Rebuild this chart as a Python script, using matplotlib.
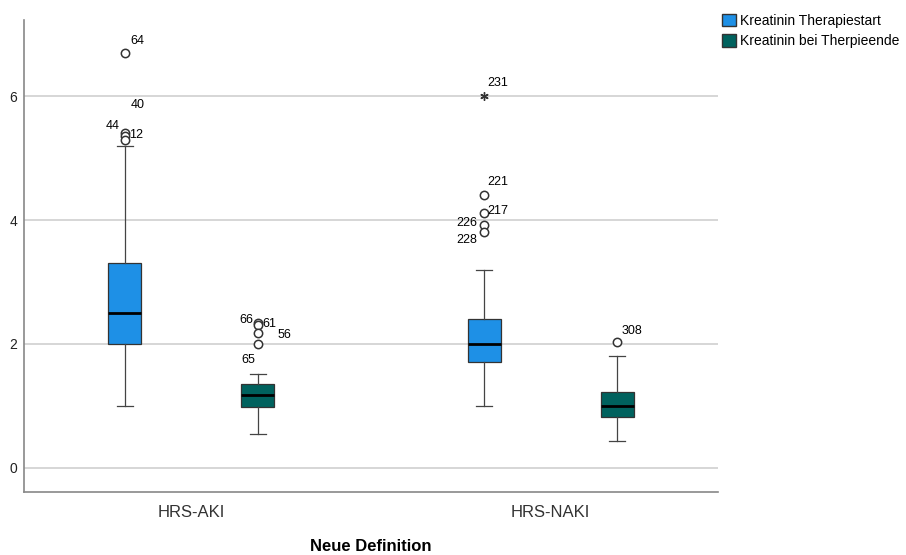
import matplotlib.pyplot as plt
from matplotlib.patches import Patch

plt.rcParams['font.family'] = ['Liberation Sans', 'DejaVu Sans']

# Groups and series
groups = ['HRS-AKI', 'HRS-NAKI']
series = ['Kreatinin Therapiestart', 'Kreatinin bei Therpieende']
colors = ['#1E90E6', '#00625E']

# Box statistics per group: [start, end]
whislo = [[1.0, 0.55], [1.0, 0.44]]
q1 = [[2.0, 0.98], [1.71, 0.82]]
med = [[2.5, 1.18], [2.0, 1.0]]
q3 = [[3.3, 1.35], [2.4, 1.23]]
whishi = [[5.2, 1.52], [3.2, 1.81]]

# Outliers (value, case number)
outliers = [
    [[(6.7, '64'), (5.4, '40'), (5.35, '44'), (5.3, '12')],
     [(2.34, '66'), (2.3, '61'), (2.18, '56'), (2.0, '65')]],
    [[(4.4, '221'), (4.11, '217'), (3.92, '226'), (3.81, '228')],
     [(2.03, '308')]],
]
# Extreme values (asterisk marker)
extremes = [
    [[], []],
    [[(6.0, '231')], []],
]

# label offsets in points for each case number
label_offsets = {
    '64': (4, 4), '40': (4, 16), '44': (-14, 3), '12': (3, -1),
    '66': (-13, -2), '61': (3, -3), '56': (14, -6), '65': (-12, -16),
    '221': (2, 5), '217': (2, -3), '226': (-20, -3), '228': (-20, -10),
    '231': (2, 5), '308': (3, 4),
}

offset = 0.185
box_w = 0.092

fig = plt.figure(figsize=(9.06, 5.55), dpi=100)
ax = fig.add_axes([0.0265, 0.1135, 0.766, 0.8505])

for gi in range(len(groups)):
    for si in range(len(series)):
        x = gi + (si - 0.5) * 2 * offset
        stats = [dict(med=med[gi][si], q1=q1[gi][si], q3=q3[gi][si],
                      whislo=whislo[gi][si], whishi=whishi[gi][si],
                      fliers=[v for v, _ in outliers[gi][si]])]
        ax.bxp(stats, positions=[x], widths=box_w, patch_artist=True,
               showfliers=True,
               boxprops=dict(facecolor=colors[si], edgecolor='#333333',
                             linewidth=0.9),
               medianprops=dict(color='black', linewidth=2),
               whiskerprops=dict(color='#444444', linewidth=0.9),
               capprops=dict(color='#444444', linewidth=0.9),
               capwidths=0.045,
               flierprops=dict(marker='o', markersize=6,
                               markerfacecolor='white',
                               markeredgecolor='#333333',
                               markeredgewidth=1.1))
        for v, lab in outliers[gi][si]:
            ax.annotate(lab, (x, v), xytext=label_offsets[lab],
                        textcoords='offset points', fontsize=9,
                        ha='left', va='bottom')
        for v, lab in extremes[gi][si]:
            ax.plot([x], [v], marker=(6, 2, 0), color='#333333',
                    markersize=6, markeredgewidth=1.0, linestyle='none')
            ax.annotate(lab, (x, v), xytext=label_offsets[lab],
                        textcoords='offset points', fontsize=9,
                        ha='left', va='bottom')

ax.set_xlim(-0.465, 1.465)
ax.set_ylim(-0.39, 7.23)
ax.set_yticks([0, 2, 4, 6])
ax.set_xticks(range(len(groups)))
ax.set_xticklabels(groups, fontsize=12, color='#333333')
ax.tick_params(axis='y', length=0, pad=5, labelsize=10, labelcolor='#222222')
ax.tick_params(axis='x', length=0, pad=9)
ax.yaxis.grid(True, color='#d0d0d0', linewidth=1.2)
ax.set_axisbelow(True)
for side in ['top', 'right']:
    ax.spines[side].set_visible(False)
for side in ['left', 'bottom']:
    ax.spines[side].set_color('#888888')
    ax.spines[side].set_linewidth(1.2)

ax.set_xlabel('Neue Definition', fontsize=12, fontweight='bold', labelpad=14)

handles = [Patch(facecolor=c, edgecolor='#333333', label=s)
           for c, s in zip(colors, series)]
fig.legend(handles=handles, loc='upper left', bbox_to_anchor=(0.791, 0.985),
           frameon=False, fontsize=10, handlelength=1.0, handleheight=1.0,
           handletextpad=0.3, labelspacing=0.45, borderaxespad=0)

fig.savefig('out.png', dpi=100)
